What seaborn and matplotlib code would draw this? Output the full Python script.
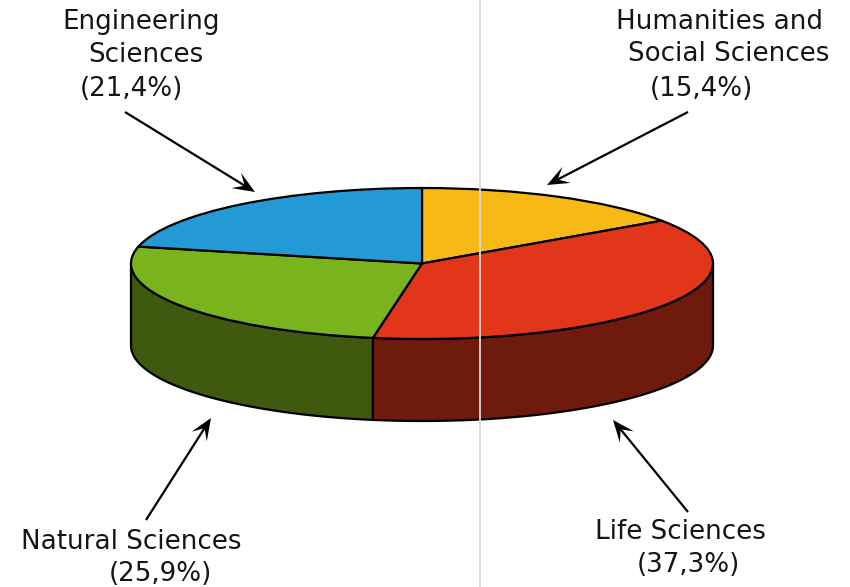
import numpy as np
import matplotlib
matplotlib.use("Agg")
import matplotlib.pyplot as plt
from matplotlib.patches import Polygon
import seaborn as sns

fields = ["Humanities and Social Sciences", "Life Sciences", "Natural Sciences", "Engineering Sciences"]
shares = [15.4, 37.3, 25.9, 21.4]
top_colors = ["#F7B916", "#E2361B", "#79B41F", "#239AD5"]
side_colors = {"Life Sciences": "#6E1A0C", "Natural Sciences": "#3F5A0F"}

label_lines = [
    ("Engineering", 141, 22), ("Sciences", 146, 55), ("(21,4%)", 131, 89),
    ("Humanities and", 720, 22), ("Social Sciences", 729, 54), ("(15,4%)", 701, 89),
    ("Life Sciences", 680, 532), ("(37,3%)", 688, 565),
    ("Natural Sciences", 131, 542), ("(25,9%)", 160, 574),
]
arrows = [
    ((125, 112), (255, 192)),
    ((688, 112), (547, 185)),
    ((688, 512), (613, 420)),
    ((146, 520), (211, 418)),
]

sns.set_theme(style="white")
plt.rcParams["font.family"] = ["DejaVu Sans"]

W, H = 850, 587
CX, CY, RX, RY, DEPTH = 422, 263.5, 291, 75.5, 82
EDGE = 1.6

fig = plt.figure(figsize=(W / 100, H / 100), dpi=100, facecolor="white")

# Pie axes: unit circle maps to the flattened ellipse
ax = fig.add_axes([0, 0, 1, 1], zorder=1)
ax.pie(shares, colors=sns.color_palette(top_colors), startangle=90, counterclock=False,
       radius=1, wedgeprops=dict(edgecolor="black", linewidth=EDGE, zorder=3))
ax.set_aspect("auto")
ax.set_xlim(-CX / RX, (W - CX) / RX)
ax.set_ylim((CY - H) / RY, CY / RY)
ax.axis("off")

# Cylinder wall, split where the shares meet along the lower half
depth = DEPTH / RY
cum = np.cumsum(shares) / sum(shares) * 360
life_end = cum[fields.index("Life Sciences")]
spans = {"Life Sciences": (90, life_end), "Natural Sciences": (life_end, 270)}
for name, (a0, a1) in spans.items():
    t = np.radians(np.linspace(a0, a1, 120))
    x, y = np.sin(t), np.cos(t)
    ax.fill(np.r_[x, x[::-1]], np.r_[y, y[::-1] - depth], facecolor=side_colors[name],
            edgecolor="black", linewidth=EDGE, joinstyle="round", zorder=2)

# Overlay in pixel coordinates for labels, arrows and the thin rule
ov = fig.add_axes([0, 0, 1, 1], zorder=2)
ov.set_xlim(0, W)
ov.set_ylim(H, 0)
ov.axis("off")
ov.patch.set_alpha(0)

ov.axvline(480, color="#DADADA", linewidth=1.3, zorder=1)

for text, x, y in label_lines:
    ov.text(x, y, text, ha="center", va="center", fontsize=18.8, color="#151515", zorder=5)

for start, tip in arrows:
    s, e = np.array(start, float), np.array(tip, float)
    u = (e - s) / np.linalg.norm(e - s)
    n = np.array([-u[1], u[0]])
    base = e - 12 * u
    ov.plot([s[0], base[0]], [s[1], base[1]], color="black", linewidth=1.6,
            solid_capstyle="butt", zorder=4)
    head = [e, e - 22 * u + 9 * n, e - 12 * u, e - 22 * u - 9 * n]
    ov.add_patch(Polygon(head, closed=True, facecolor="black", edgecolor="none", zorder=4))

fig.savefig("out.png", dpi=100)
